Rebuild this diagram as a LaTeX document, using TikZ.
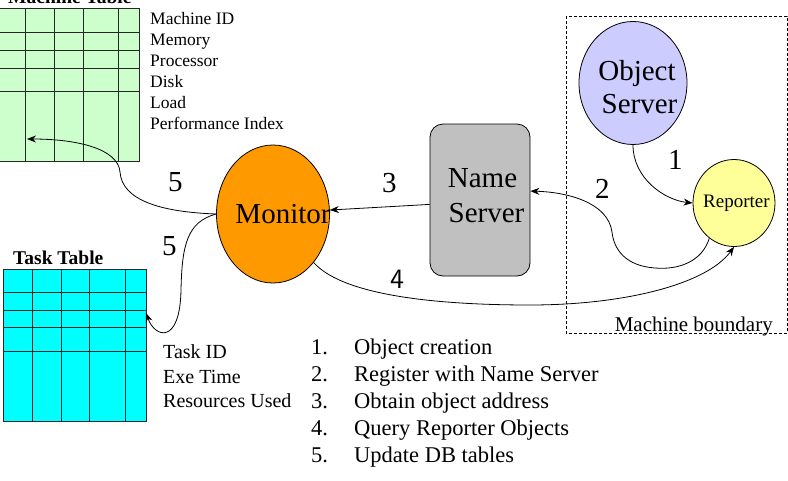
\documentclass[tikz,border=0pt]{standalone}
\usepackage{fontspec}
\newfontfamily\tnr{Liberation Serif}
\usetikzlibrary{arrows.meta,shapes.geometric}

% All text is set at one base size and enlarged with \scalebox
\newcommand{\rmtext}[2]{{\tnr\fontsize{10}{12}\selectfont\scalebox{#1}{#2}}}
\newcommand{\bftext}[2]{{\tnr\bfseries\fontsize{10}{12}\selectfont\scalebox{#1}{#2}}}
\newcommand{\sftext}[2]{{\sffamily\fontsize{10}{12}\selectfont\scalebox{#1}{#2}}}

\definecolor{mtgreen}{HTML}{CCFFCC}
\definecolor{ttcyan}{HTML}{00FFFF}
\definecolor{monorange}{HTML}{FF9900}
\definecolor{nsgray}{HTML}{C0C0C0}
\definecolor{oslav}{HTML}{CCCCFF}
\definecolor{repyellow}{HTML}{FFFF99}

\tikzset{
  gridline/.style={line width=0.8pt, black!85},
  arr/.style={line width=0.8pt, -{Stealth[length=9pt,width=7pt]}},
  ctxt/.style={anchor=base, inner sep=0pt},
  ltxt/.style={anchor=base west, inner sep=0pt},
  blob/.style={ellipse, draw, line width=0.8pt, inner sep=0pt},
}

\begin{document}
\begin{tikzpicture}[x=1pt,y=-1pt]
\clip (0,0) rectangle (788,480);

% Machine table (runs off the left and top edges)
\fill[mtgreen] (-10,8) rectangle (139,161);
\foreach \gx in {25,54,83,118}
  \draw[gridline] (\gx,8) -- (\gx,161);
\foreach \gy in {32,50,68,91}
  \draw[gridline] (-10,\gy) -- (139,\gy);
\draw[gridline] (-10,8) -- (139,8) -- (139,161) -- (-10,161);
\node[ltxt] (mttitle) at (8,3) {\bftext{1.95}{Machine Table}};
\coordinate (mtin) at (27,139);

\node[ltxt] (f1) at (150,24)  {\rmtext{1.75}{Machine ID}};
\node[ltxt] (f2) at (150,45)  {\rmtext{1.75}{Memory}};
\node[ltxt] (f3) at (150,66)  {\rmtext{1.75}{Processor}};
\node[ltxt] (f4) at (150,87)  {\rmtext{1.75}{Disk}};
\node[ltxt] (f5) at (150,108) {\rmtext{1.75}{Load}};
\node[ltxt] (f6) at (150,129) {\rmtext{1.75}{Performance Index}};

% Task table
\fill[ttcyan] (3,269) rectangle (146,421);
\foreach \gx in {32,61,89,125}
  \draw[gridline] (\gx,269) -- (\gx,421);
\foreach \gy in {292,310,327,351}
  \draw[gridline] (3,\gy) -- (146,\gy);
\draw[gridline] (3,269) rectangle (146,421);
\node[ltxt] (tttitle) at (13,264) {\bftext{1.95}{Task Table}};
\coordinate (ttin) at (146,313);

\node[ltxt] (t1) at (163,358) {\rmtext{2.0}{Task ID}};
\node[ltxt] (t2) at (163,383) {\rmtext{2.0}{Exe Time}};
\node[ltxt] (t3) at (163,407) {\rmtext{2.0}{Resources Used}};

% Machine boundary
\draw[line width=0.8pt, dash pattern=on 3pt off 2pt] (566,16) rectangle (787,333);
\node[anchor=base east, inner sep=0pt] (mb) at (773,331) {\rmtext{2.1}{Machine boundary}};

% Components
\node[blob, fill=monorange, minimum width=113pt, minimum height=138pt] (mon) at (273,214) {};
\node[ctxt] (montxt) at (283,223) {\rmtext{2.9}{Monitor}};

\node[draw, line width=0.8pt, fill=nsgray, rounded corners=13pt,
      minimum width=100pt, minimum height=152pt, inner sep=0pt] (ns) at (480,200) {};
\node[ctxt] (nstxt1) at (482.5,187) {\rmtext{2.9}{Name}};
\node[ctxt] (nstxt2) at (486.5,222) {\rmtext{2.9}{Server}};

\node[blob, fill=oslav, minimum width=108pt, minimum height=123pt] (os) at (633,83) {};
\node[ctxt] (ostxt1) at (637,80) {\rmtext{2.9}{Object}};
\node[ctxt] (ostxt2) at (639.5,113) {\rmtext{2.9}{Server}};

\node[blob, fill=repyellow, minimum width=82pt, minimum height=87pt] (rep) at (734,203) {};
\node[ltxt] (reptxt) at (703,207) {\rmtext{1.9}{Reporter}};

% Connectors
\draw[arr] (os.south) .. controls (633,178) and (664,200) .. (rep.west);
\draw[arr] (rep.235) .. controls (702,262) and (678,270) .. (655,268)
           .. controls (626,266) and (614,250) .. (612,232)
           .. controls (608,202) and (566,192) .. (ns.10);
\draw[arr] (ns.185) -- (mon.4);
\draw[arr] (mon.-50) .. controls (345,298) and (450,305) .. (530,305)
           .. controls (622,305) and (706,285) .. (rep.south);
\draw[arr] (mon.west) .. controls (160,212) and (122,200) .. (120,172)
           .. controls (118,148) and (75,139) .. (mtin);
\draw[arr] (mon.west) .. controls (187,222) and (182,245) .. (181,290)
           .. controls (180,345) and (155,338) .. (ttin);

% Connector labels
\node[ltxt] (l1) at (668,169) {\rmtext{2.9}{1}};
\node[ltxt] (l2) at (595,198) {\rmtext{2.9}{2}};
\node[ltxt] (l3) at (382,192) {\rmtext{2.9}{3}};
\node[ltxt] (l4) at (390,288) {\sftext{2.8}{4}};
\node[ltxt] (l5a) at (168,191) {\rmtext{2.9}{5}};
\node[ltxt] (l5b) at (162,255) {\rmtext{2.9}{5}};

% Legend
\node[ltxt] (n1) at (311,354) {\rmtext{2.25}{1.}};
\node[ltxt] (n2) at (311,381) {\rmtext{2.25}{2.}};
\node[ltxt] (n3) at (311,408) {\rmtext{2.25}{3.}};
\node[ltxt] (n4) at (311,435) {\rmtext{2.25}{4.}};
\node[ltxt] (n5) at (311,462) {\rmtext{2.25}{5.}};
\node[ltxt] (e1) at (354,354) {\rmtext{2.25}{Object creation}};
\node[ltxt] (e2) at (354,381) {\rmtext{2.25}{Register with Name Server}};
\node[ltxt] (e3) at (354,408) {\rmtext{2.25}{Obtain object address}};
\node[ltxt] (e4) at (354,435) {\rmtext{2.25}{Query Reporter Objects}};
\node[ltxt] (e5) at (354,462) {\rmtext{2.25}{Update DB tables}};
\end{tikzpicture}
\end{document}
